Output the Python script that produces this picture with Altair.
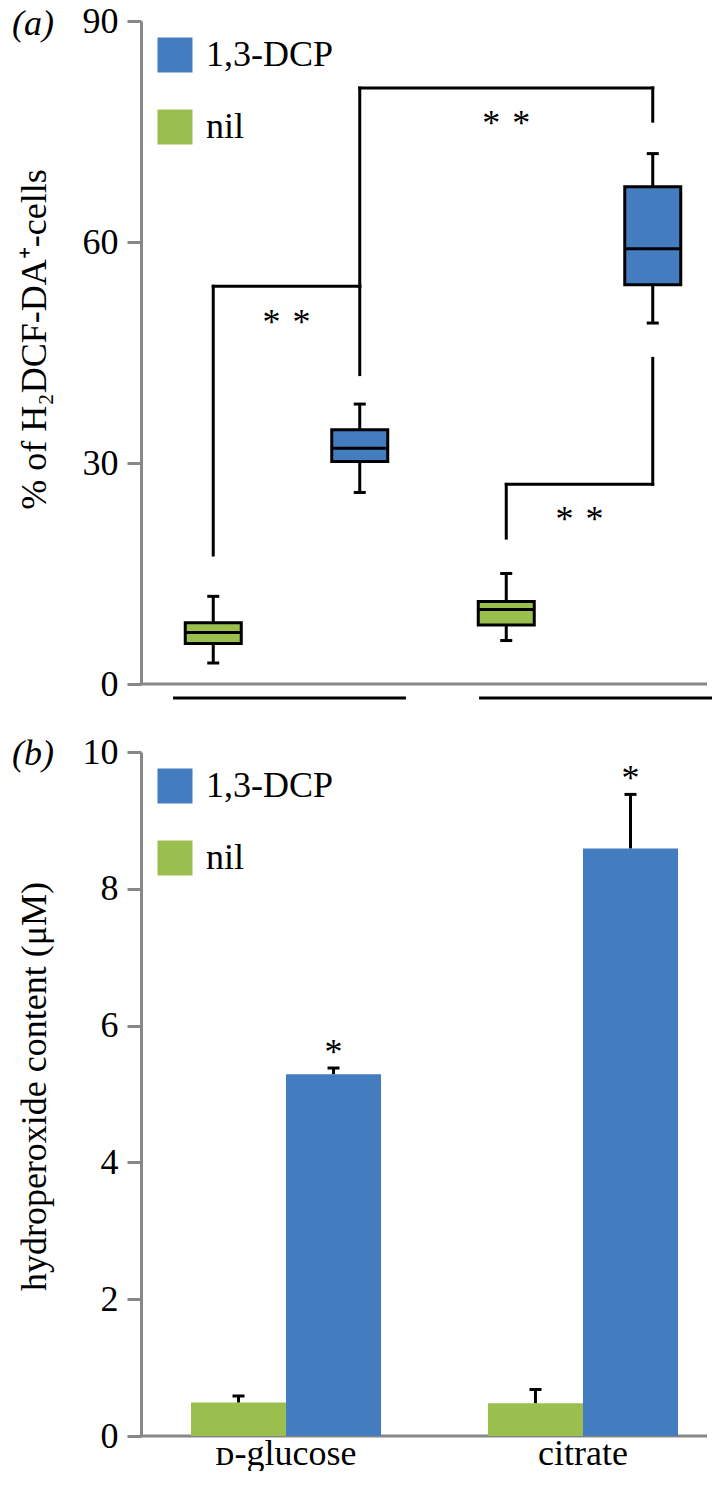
import altair as alt
import pandas as pd

FONT = "Liberation Serif, Times New Roman, Times, serif"
FS = 36
BLUE = "#437DC0"
GREEN = "#9BBF4F"
GRAY = "#878787"

groups = ["ᴅ-glucose", "citrate"]
treatments = ["nil", "1,3-DCP"]
legend_order = ["1,3-DCP", "nil"]
panel_labels = ["(a)", "(b)"]

# ---------- panel (a): box statistics ----------
box_group = ["ᴅ-glucose", "ᴅ-glucose", "citrate", "citrate"]
box_treatment = ["nil", "1,3-DCP", "nil", "1,3-DCP"]
box_low = [2.85, 26.0, 5.9, 49.0]
box_q1 = [5.5, 30.2, 8.0, 54.2]
box_median = [7.0, 32.0, 10.1, 59.1]
box_q3 = [8.3, 34.5, 11.2, 67.5]
box_high = [11.9, 38.0, 15.0, 72.0]
ticks_a = [0, 30, 60, 90]

# significance brackets (a): vertical legs
leg_group = ["ᴅ-glucose", "ᴅ-glucose", "ᴅ-glucose", "citrate", "citrate", "citrate"]
leg_treatment = ["nil", "1,3-DCP", "1,3-DCP", "1,3-DCP", "nil", "1,3-DCP"]
leg_from = [17.5, 42.0, 54.0, 76.4, 19.8, 27.1]
leg_to = [54.0, 54.0, 80.9, 80.9, 27.1, 44.2]
# horizontal bars of brackets
within_group = ["ᴅ-glucose", "citrate"]
within_level = [54.0, 27.1]
across_from = ["ᴅ-glucose"]
across_to = ["citrate"]
across_level = [80.9]
# stars
star_pair = "*\u2004*"
within_star_y = [47.5, 20.8]
across_star_group = ["citrate"]
across_star_y = [74.5]

# ---------- panel (b): bars ----------
bar_group = ["ᴅ-glucose", "ᴅ-glucose", "citrate", "citrate"]
bar_treatment = ["nil", "1,3-DCP", "nil", "1,3-DCP"]
bar_mean = [0.49, 5.29, 0.48, 8.59]
bar_sem = [0.095, 0.09, 0.20, 0.79]
ticks_b = [0, 2, 4, 6, 8, 10]
star_b_group = ["ᴅ-glucose", "citrate"]
star_b_treatment = ["1,3-DCP", "1,3-DCP"]
star_b_y = [5.44, 9.45]

W = 566
HA = 663
HB = 684

box_df = pd.DataFrame({"group": box_group, "treatment": box_treatment, "low": box_low,
                       "q1": box_q1, "median": box_median, "q3": box_q3, "high": box_high})
leg_df = pd.DataFrame({"group": leg_group, "treatment": leg_treatment, "y1": leg_from, "y2": leg_to})
within_df = pd.DataFrame({"group": within_group, "level": within_level, "sy": within_star_y,
                          "txt": [star_pair] * len(within_group)})
across_df = pd.DataFrame({"g_from": across_from, "g_to": across_to, "level": across_level})
across_star_df = pd.DataFrame({"group": across_star_group, "sy": across_star_y, "txt": [star_pair]})
bar_df = pd.DataFrame({"group": bar_group, "treatment": bar_treatment, "mean": bar_mean, "sem": bar_sem})
star_b_df = pd.DataFrame({"group": star_b_group, "treatment": star_b_treatment, "sy": star_b_y,
                          "txt": ["*"] * len(star_b_group)})
one_df = pd.DataFrame({"k": [0]})
groups_df = pd.DataFrame({"group": groups})

color = alt.Color("treatment:N", scale=alt.Scale(domain=legend_order, range=[BLUE, GREEN]),
                  legend=alt.Legend(title=None, orient="none", legendX=16, legendY=16,
                                    symbolType="square", symbolSize=1225, symbolStrokeWidth=0,
                                    labelFont=FONT, labelFontSize=FS, labelColor="black",
                                    labelOffset=13, rowPadding=36, padding=0, labelLimit=300))

# ---------------- panel (a) ----------------
xa_scale = alt.Scale(domain=groups, range=[-1, 585], paddingInner=0, paddingOuter=0)
xo_a = alt.XOffset("treatment:N", scale=alt.Scale(domain=treatments, paddingInner=0, paddingOuter=0))
ya_scale = alt.Scale(domain=[0, 90], nice=False)
ya_axis = alt.Axis(values=ticks_a, title="% of H₂DCF-DA⁺-cells", titleX=-96, titleY=318,
                   titleBaseline="alphabetic", titleAngle=-90, titleAlign="center", grid=False)


def XA(field="group:N", **kw):
    return alt.X(field, scale=xa_scale, axis=None, **kw)


def YA(field):
    return alt.Y(field, scale=ya_scale, axis=ya_axis)


base_a = alt.Chart(one_df).mark_rule(color=GRAY, strokeWidth=3).encode(
    y=alt.Y(datum=0, type="quantitative", scale=ya_scale, axis=ya_axis))
whisk = alt.Chart(box_df).mark_rule(color="black", strokeWidth=3).encode(
    x=XA(), xOffset=xo_a, y=YA("low:Q"), y2="high:Q")
cap_lo = alt.Chart(box_df).mark_tick(color="black", size=12, thickness=3, opacity=1).encode(
    x=XA(), xOffset=xo_a, y=YA("low:Q"))
cap_hi = alt.Chart(box_df).mark_tick(color="black", size=12, thickness=3, opacity=1).encode(
    x=XA(), xOffset=xo_a, y=YA("high:Q"))
boxes = alt.Chart(box_df).mark_bar(width=56, stroke="black", strokeWidth=3, opacity=1).encode(
    x=XA(), xOffset=xo_a, y=YA("q1:Q"), y2="q3:Q", color=color)
meds = alt.Chart(box_df).mark_tick(color="black", size=56, thickness=3, opacity=1).encode(
    x=XA(), xOffset=xo_a, y=YA("median:Q"))
legs = alt.Chart(leg_df).mark_rule(color="black", strokeWidth=3, strokeCap="square").encode(
    x=XA(), xOffset=xo_a, y=YA("y1:Q"), y2="y2:Q")
hz_in = alt.Chart(within_df).mark_rule(color="black", strokeWidth=3, strokeCap="square").encode(
    x=XA("group:N", bandPosition=0.25), x2=alt.X2("group:N", bandPosition=0.75), y=YA("level:Q"))
hz_across = alt.Chart(across_df).mark_rule(color="black", strokeWidth=3, strokeCap="square").encode(
    x=XA("g_from:N", bandPosition=0.75), x2=alt.X2("g_to:N", bandPosition=0.75), y=YA("level:Q"))
stars_in = alt.Chart(within_df).mark_text(fontSize=FS, baseline="alphabetic", color="black").encode(
    x=XA(), y=YA("sy:Q"), text="txt:N")
stars_across = alt.Chart(across_star_df).mark_text(fontSize=FS, baseline="alphabetic", color="black").encode(
    x=XA("group:N", bandPosition=0.25), y=YA("sy:Q"), text="txt:N")
label_a = alt.Chart(pd.DataFrame({"lab": [panel_labels[0]]})).mark_text(
    fontSize=FS, fontStyle="italic", align="left", baseline="middle", color="black").encode(
    text="lab:N", x=alt.value(-129), y=alt.value(3))

main_a = alt.layer(base_a, whisk, cap_lo, cap_hi, boxes, meds, legs, hz_in, hz_across,
                   stars_in, stars_across, label_a)
group_lines = alt.Chart(groups_df).mark_rule(color="black", strokeWidth=3).encode(
    x=alt.X("group:N", bandPosition=0,
            scale=alt.Scale(domain=groups, range=[32, 571], paddingInner=0.239, paddingOuter=0),
            axis=None),
    x2=alt.X2("group:N", bandPosition=1),
    y=alt.value(HA + 14))
chart_a = alt.layer(main_a, group_lines).resolve_scale(x="independent").properties(width=W, height=HA)

# ---------------- panel (b) ----------------
xb_scale = alt.Scale(domain=groups, range=[50, 537], paddingInner=0.36, paddingOuter=0)
xb_axis = alt.Axis(title=None, labelAngle=0, domain=False, ticks=False, labelFontSize=FS,
                   labelPadding=0, labelColor="black", labelFont=FONT)
xo_b = alt.XOffset("treatment:N", scale=alt.Scale(domain=treatments, paddingInner=0, paddingOuter=0))
yb_scale = alt.Scale(domain=[0, 10], nice=False)
yb_axis = alt.Axis(values=ticks_b, title="hydroperoxide content (μM)", titleX=-96, titleY=334,
                   titleBaseline="alphabetic", titleAngle=-90, titleAlign="center", grid=False)


def XB():
    return alt.X("group:N", scale=xb_scale, axis=xb_axis)


def YB(field):
    return alt.Y(field, scale=yb_scale, axis=yb_axis)


base_b = alt.Chart(one_df).mark_rule(color=GRAY, strokeWidth=3).encode(
    y=alt.Y(datum=0, type="quantitative", scale=yb_scale, axis=yb_axis))
bars = alt.Chart(bar_df).mark_bar(opacity=1).encode(
    x=XB(), xOffset=xo_b, y=YB("mean:Q"), color=color)
err = alt.Chart(bar_df).transform_calculate(top="datum.mean + datum.sem").mark_rule(
    color="black", strokeWidth=3).encode(x=XB(), xOffset=xo_b, y=YB("mean:Q"), y2="top:Q")
err_cap = alt.Chart(bar_df).transform_calculate(top="datum.mean + datum.sem").mark_tick(
    color="black", size=12, thickness=3, opacity=1).encode(x=XB(), xOffset=xo_b, y=YB("top:Q"))
stars_b = alt.Chart(star_b_df).mark_text(fontSize=FS, baseline="alphabetic", color="black").encode(
    x=XB(), xOffset=xo_b, y=YB("sy:Q"), text="txt:N")
label_b = alt.Chart(pd.DataFrame({"lab": [panel_labels[1]]})).mark_text(
    fontSize=FS, fontStyle="italic", align="left", baseline="middle", color="black").encode(
    text="lab:N", x=alt.value(-129), y=alt.value(2))

chart_b = alt.layer(base_b, bars, err, err_cap, stars_b, label_b).properties(width=W, height=HB)

chart = (
    alt.vconcat(chart_a, chart_b, spacing=32)
    .resolve_scale(x="independent", xOffset="independent", y="independent", color="independent")
    .properties(padding={"left": 4, "top": -5, "right": 0, "bottom": 0})
    .configure(font=FONT)
    .configure_view(stroke=None)
    .configure_axis(domainColor=GRAY, domainWidth=3, tickColor=GRAY, tickWidth=3, tickSize=14,
                    labelFont=FONT, labelFontSize=FS, labelColor="black", labelPadding=9,
                    titleFont=FONT, titleFontSize=FS, titleFontWeight="normal", titleColor="black")
    .configure_text(font=FONT)
    .configure_legend(labelFont=FONT)
)

chart.save("out.html", embed_options={"renderer": "svg", "actions": False})
